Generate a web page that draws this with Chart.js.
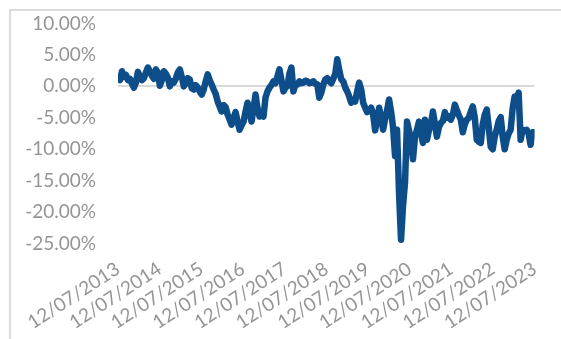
<!DOCTYPE html>
<html>
<head>
<meta charset="utf-8">
<script src="https://cdn.jsdelivr.net/npm/chart.js@4"></script>
<style>
  html, body { margin: 0; padding: 0; background: #fff; overflow: hidden; }
  #frame {
    position: absolute; left: 9px; top: 9px; width: 600px; height: 400px;
    border-top: 2px solid #dcdcdc; border-left: 2px solid #dcdcdc;
  }
  #wrap { position: absolute; left: 0; top: 0; width: 561px; height: 339px; }
</style>
</head>
<body>
<div id="frame"></div>
<div id="wrap"><canvas id="chart" width="561" height="339"></canvas></div>
<script>
  // tick labels for the x axis (one per year)
  const yearLabels = [
    "12/07/2013", "12/07/2014", "12/07/2015", "12/07/2016", "12/07/2017", "12/07/2018",
    "12/07/2019", "12/07/2020", "12/07/2021", "12/07/2022", "12/07/2023"
  ];

  // series values in %, evenly spaced from first to last label
  const values = [
    1.4, 1.0, 2.4, 1.5, 1.8, 1.0, 1.2, 0.4, -0.2, 0.6,
    2.3, 1.6, 1.0, 1.3, 2.2, 3.0, 2.4, 1.7, 1.2, 2.7,
    2.2, 0.1, 1.0, 2.4, 2.0, 1.4, 0.0, 0.8, 0.6, 1.2,
    2.2, 2.7, 1.5, 0.0, 0.5, 1.3, 1.1, -0.3, -0.5, 0.2,
    -0.2, -0.8, -1.3, -0.5, 0.8, 1.9, 1.0, 0.3, -0.5, -1.2,
    -2.4, -3.2, -4.0, -3.0, -3.3, -4.5, -5.3, -6.1, -5.0, -4.1,
    -5.6, -6.9, -6.2, -5.6, -4.0, -2.6, -4.0, -5.6, -3.5, -1.3,
    -3.5, -4.8, -4.5, -4.8, -1.8, -0.8, -0.2, 0.2, 0.8, 0.5,
    1.6, 2.7, 1.0, -0.8, -0.2, 0.0, 2.0, 3.0, -0.8, 0.3,
    0.3, 0.8, 0.5, 0.6, 0.9, 0.8, 0.5, 0.6, 0.8, 0.4,
    0.3, -1.8, -1.0, 0.3, 1.1, 1.3, 0.8, 0.5, 1.2, 2.0,
    4.3, 2.6, 1.1, 0.8, -0.2, -0.8, -1.6, -2.6, -2.1, -2.4,
    -0.8, 0.6, -0.5, -2.6, -3.4, -4.1, -3.8, -3.4, -4.5, -7.0,
    -5.2, -3.4, -5.0, -6.9, -5.2, -3.8, -2.1, -4.0, -6.5, -11.1,
    -6.9, -17.0, -24.4, -19.0, -15.3, -5.6, -7.0, -8.5, -11.6, -8.0,
    -6.9, -5.6, -7.5, -9.0, -5.3, -8.5, -7.0, -6.0, -4.0, -6.0,
    -8.0, -6.5, -5.8, -5.5, -4.1, -5.0, -4.8, -5.3, -4.5, -2.9,
    -3.8, -4.6, -5.3, -7.3, -6.0, -5.3, -5.0, -4.0, -3.2, -5.0,
    -8.5, -8.8, -9.0, -6.0, -4.5, -3.7, -6.5, -9.6, -10.0, -8.0,
    -6.9, -5.5, -4.9, -8.0, -10.0, -8.5, -7.5, -6.9, -3.5, -1.6,
    -2.5, -1.0, -8.5, -6.9, -7.0, -6.9, -7.5, -9.3, -7.3, -7.3
  ];

  const yMin = -25;
  const yMax = 10;
  const yStep = 5;

  const lineColor = "#0d4e8a";
  const labelColor = "#959595";
  const zeroLine = "#d9d9d9";

  const span = yearLabels.length - 1;
  const points = values.map((v, i) => ({ x: i * span / (values.length - 1), y: v }));

  const ctx = document.getElementById("chart").getContext("2d");

  new Chart(ctx, {
    type: "line",
    data: {
      datasets: [
        {
          data: points,
          borderColor: lineColor,
          borderWidth: 6.5,
          borderJoinStyle: "round",
          borderCapStyle: "round",
          pointRadius: 0,
          tension: 0,
          fill: false
        }
      ]
    },
    options: {
      responsive: false,
      animation: false,
      events: [],
      layout: { padding: { top: 23.5, right: 25, bottom: 0, left: 0 } },
      plugins: {
        legend: { display: false },
        tooltip: { enabled: false }
      },
      scales: {
        x: {
          type: "linear",
          min: 0,
          max: span,
          border: { display: false },
          grid: { display: false, drawTicks: false },
          afterFit(scale) { scale.height = 95.5; },
          ticks: {
            stepSize: 1,
            autoSkip: false,
            minRotation: 33,
            maxRotation: 33,
            padding: 14,
            color: labelColor,
            font: { family: "Lato", size: 19 },
            callback(value) { return yearLabels[value]; }
          }
        },
        y: {
          min: yMin,
          max: yMax,
          border: { display: false },
          grid: {
            drawTicks: true,
            tickLength: 22,
            tickColor: "rgba(0,0,0,0)",
            lineWidth: 2,
            color(c) { return c.tick && c.tick.value === 0 ? zeroLine : "rgba(0,0,0,0)"; }
          },
          afterFit(scale) { scale.width = 118; },
          ticks: {
            stepSize: yStep,
            padding: 0,
            color: labelColor,
            font: { family: "Lato", size: 19 },
            callback(value) { return value.toFixed(2) + "%"; }
          }
        }
      }
    }
  });
</script>
</body>
</html>
